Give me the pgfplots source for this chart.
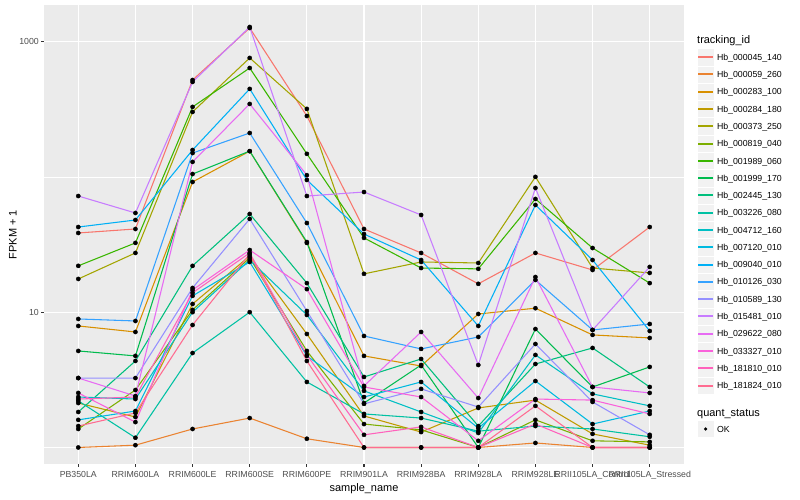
\documentclass[border=0pt]{standalone}
\usepackage{fontspec}
\setmainfont{Liberation Sans}
\usepackage{pgfplots}
\usepackage{pgfplotstable}
\pgfplotsset{compat=1.18}

\definecolor{gray92}{HTML}{EBEBEB}
\definecolor{gray95}{HTML}{F2F2F2}
\definecolor{gray30}{HTML}{4D4D4D}
\definecolor{gray20}{HTML}{333333}
\definecolor{c1}{HTML}{F8766D}
\definecolor{c2}{HTML}{EA8331}
\definecolor{c3}{HTML}{D89000}
\definecolor{c4}{HTML}{C09B00}
\definecolor{c5}{HTML}{A3A500}
\definecolor{c6}{HTML}{7CAE00}
\definecolor{c7}{HTML}{39B600}
\definecolor{c8}{HTML}{00BB4E}
\definecolor{c9}{HTML}{00BF7D}
\definecolor{c10}{HTML}{00C1A3}
\definecolor{c11}{HTML}{00BFC4}
\definecolor{c12}{HTML}{00BAE0}
\definecolor{c13}{HTML}{00B0F6}
\definecolor{c14}{HTML}{35A2FF}
\definecolor{c15}{HTML}{9590FF}
\definecolor{c16}{HTML}{C77CFF}
\definecolor{c17}{HTML}{E76BF3}
\definecolor{c18}{HTML}{FA62DB}
\definecolor{c19}{HTML}{FF62BC}
\definecolor{c20}{HTML}{FF6C91}

% FPKM + 1, one column per tracking_id, one row per sample
\pgfplotstableread{
x  s1   s2   s3   s4   s5   s6   s7   s8   s9   s10  s11  s12  s13  s14  s15  s16  s17  s18  s19  s20
0  38.5 1    7.91 2.13 17.6 1.37 22.0 5.17 1.83 2.21 2.36 1.60 42.6 8.91 3.26 72.2 3.26 2.53 2.28 1.44
1  41.2 1.04 7.14 1.68 27.4 2.66 32.5 4.75 4.36 1.18 2.28 1.86 48.0 8.61 3.26 54.1 2.40 1.54 2.36 1.80
2  520  1.37 91.7 11.5 302  10.4 329  105  22.0 4.99 10.0 13.2 158  150  15.1 503  129  14.6 13.9 8.04
3  1260 1.65 155  26.0 757  25.2 638  155  53.2 10.0 24.3 23.5 447  211  48.9 1282 346  28.8 27.4 26.9
4  282  1.16 32.5 6.90 318  5.17 148  33.0 16.4 3.05 9.54 4.75 94.9 45.6 10.2 72.2 103  14.8 4.83 4.36
5  41.2 1    4.75 1.71 19.2 1.49 35.4 2.13 3.32 1.77 2.62 2.36 37.8 6.67 2.10 77.3 2.85 2.80 1.24 1
6  27.4 1    4.00 1.30 23.5 1.35 21.2 4.07 4.51 1.65 1.83 3.05 24.3 5.35 2.71 52.3 7.14 2.36 1.42 1
7  16.2 1    9.70 1.96 23.1 1    20.9 1    1.44 1.32 1.28 1.39 7.91 6.56 1.99 4.07 2.32 1.12 1    1
8  27.4 1.08 10.7 2.24 100  1.60 68.7 7.51 4.14 1.44 4.83 3.10 62.0 17.3 5.82 82.8 18.2 2.28 1.49 2.03
9  20.5 1    6.79 1.26 21.2 1.12 29.8 2.80 5.44 1.37 2.49 1.49 24.3 7.39 2.17 7.39 2.80 2.24 1    1
10 42.6 1    6.45 1.04 19.5 1.10 16.4 3.94 2.80 1.20 2.03 1.86 7.26 8.18 1.24 21.6 2.53 1.77 1    1
}\samples

\begin{document}
\begin{tikzpicture}
\begin{axis}[
    at={(0,0)}, anchor=south west,
    scale only axis,
    width=640bp, height=459bp,
    xmin=-0.6, xmax=10.6,
    ymode=log, ymin=0.755, ymax=1864,
    axis background/.style={fill=gray92},
    axis line style={draw=none},
    grid=both,
    major grid style={white, line width=1.07bp},
    minor grid style={white, line width=0.53bp},
    xtick={0,...,10},
    xticklabels={},
    ytick={10,1000}, yticklabels={10,1000},
    minor ytick={1,100},
    xtick pos=bottom, ytick pos=left,
    tick align=outside,
    major tick length=2.75bp, minor tick length=0pt,
    tick style={gray20, line width=1.07bp},
    yticklabel style={font=\fontsize{8.8}{10}\selectfont, text=gray30, anchor=east, inner sep=0pt, xshift=-2.2bp},
]
\pgfplotsinvokeforeach{1,...,20}{
  \addplot[color=c#1, line width=1.07bp, no markers] table[x=x, y=s#1] {\samples};
}
\pgfplotsinvokeforeach{1,...,20}{
  \addplot[only marks, mark=*, mark size=2.1bp, black] table[x=x, y=s#1] {\samples};
}
\end{axis}

% x tick labels (categories at 0..10, 57.14bp apart)
\foreach \lab [count=\k from 0] in {PB350LA,RRIM600LA,RRIM600LE,RRIM600SE,RRIM600PE,RRIM901LA,RRIM928BA,RRIM928LA,RRIM928LE,RRII105LA\_Control,RRII105LA\_Stressed}{
  \pgfmathsetmacro\xc{(\k+0.6)*640/11.2}
  \node[anchor=base, inner sep=0pt, text=gray30, font=\fontsize{8.8}{10}\selectfont] at (\xc bp,-13bp) {\lab};
}

% axis titles
\node[anchor=base, inner sep=0pt, font=\fontsize{11}{13}\selectfont] at (320bp,-27bp) {sample\_name};
\node[anchor=base, rotate=90, inner sep=0pt, font=\fontsize{11}{13}\selectfont] at (-27.5bp,229.5bp) {FPKM + 1};

% legend
\node[anchor=base west, inner sep=0pt, font=\fontsize{11}{13}\selectfont] at (653bp,420bp) {tracking\_id};
\foreach \name/\col [count=\k] in {Hb\_000045\_140/c1,Hb\_000059\_260/c2,Hb\_000283\_100/c3,Hb\_000284\_180/c4,Hb\_000373\_250/c5,Hb\_000819\_040/c6,Hb\_001989\_060/c7,Hb\_001999\_170/c8,Hb\_002445\_130/c9,Hb\_003226\_080/c10,Hb\_004712\_160/c11,Hb\_007120\_010/c12,Hb\_009040\_010/c13,Hb\_010126\_030/c14,Hb\_010589\_130/c15,Hb\_015481\_010/c16,Hb\_029622\_080/c17,Hb\_033327\_010/c18,Hb\_181810\_010/c19,Hb\_181824\_010/c20}{
  \pgfmathsetmacro\ktop{57.2+17.28*(\k-1)}
  \pgfmathsetmacro\yc{464-round(\ktop)}
  \pgfmathsetmacro\ylo{464-\ktop-8.64}
  \pgfmathsetmacro\yhi{464-\ktop+8.64}
  \pgfmathsetmacro\ytx{464-\ktop-3.15}
  \filldraw[fill=gray95, draw=white, line width=0.5bp] (653bp,\ylo bp) rectangle (670.3bp,\yhi bp);
  \fill[fill=\col] (654bp,\yc bp-1bp) rectangle (669.3bp,\yc bp+1bp);
  \node[anchor=base west, inner sep=0pt, font=\fontsize{8.8}{10}\selectfont] at (672.8bp,\ytx bp) {\name};
}
\node[anchor=base west, inner sep=0pt, font=\fontsize{11}{13}\selectfont] at (653bp,47.5bp) {quant\_status};
\filldraw[fill=gray95, draw=white, line width=0.5bp] (653bp,26.36bp) rectangle (670.3bp,43.64bp);
\fill[black] (661.6bp,35bp) circle (1.8bp);
\node[anchor=base west, inner sep=0pt, font=\fontsize{8.8}{10}\selectfont] at (672.8bp,31.85bp) {OK};

\pgfresetboundingbox
\path[use as bounding box] (-44bp,-36bp) rectangle (756bp,464bp);
\end{tikzpicture}
\end{document}
